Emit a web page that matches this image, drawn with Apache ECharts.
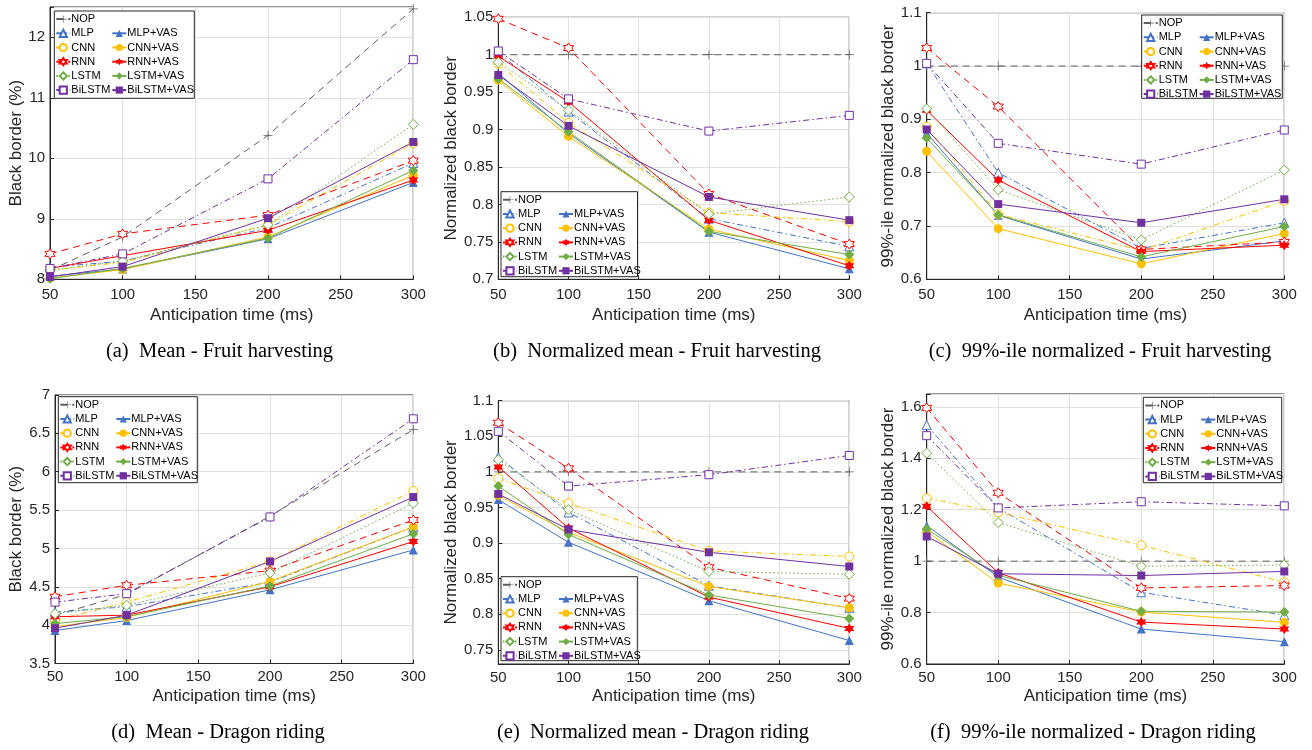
<!DOCTYPE html>
<html><head><meta charset="utf-8">
<script src="https://cdn.jsdelivr.net/npm/echarts@6/dist/echarts.min.js"></script>
<style>html,body{margin:0;padding:0;background:#fff}#c{width:1312px;height:750px}</style>
</head><body><div id="c"></div>
<script>
// ---------------- DATA ----------------
const anticipation = [50, 100, 200, 300];
const methods = ['NOP','MLP','MLP+VAS','CNN','CNN+VAS','RNN','RNN+VAS','LSTM','LSTM+VAS','BiLSTM','BiLSTM+VAS'];

// rows follow the order of `methods`
const meanFruit = [
  [8.15, 8.70, 10.38, 12.47],
  [8.20, 8.30, 8.85, 9.92],
  [8.05, 8.17, 8.67, 9.60],
  [8.15, 8.28, 8.90, 10.25],
  [8.02, 8.16, 8.70, 9.72],
  [8.42, 8.75, 9.06, 9.96],
  [8.18, 8.39, 8.81, 9.64],
  [8.15, 8.30, 8.90, 10.56],
  [8.01, 8.18, 8.68, 9.80],
  [8.18, 8.42, 9.66, 11.63],
  [8.04, 8.21, 9.01, 10.27]
];
const normMeanFruit = [
  [1, 1, 1, 1],
  [1.003, 0.924, 0.781, 0.744],
  [0.975, 0.895, 0.763, 0.714],
  [0.988, 0.909, 0.789, 0.777],
  [0.966, 0.891, 0.767, 0.725],
  [1.048, 1.009, 0.814, 0.747],
  [0.998, 0.937, 0.779, 0.718],
  [0.990, 0.926, 0.787, 0.810],
  [0.968, 0.897, 0.764, 0.733],
  [1.005, 0.941, 0.898, 0.919],
  [0.973, 0.905, 0.810, 0.779]
];
const p99Fruit = [
  [1, 1, 1, 1],
  [1.005, 0.800, 0.658, 0.706],
  [0.874, 0.720, 0.638, 0.672],
  [0.886, 0.722, 0.654, 0.747],
  [0.840, 0.695, 0.629, 0.686],
  [1.034, 0.924, 0.656, 0.670],
  [0.917, 0.786, 0.652, 0.664],
  [0.920, 0.768, 0.674, 0.805],
  [0.865, 0.721, 0.642, 0.699],
  [1.005, 0.855, 0.816, 0.880],
  [0.881, 0.741, 0.706, 0.750]
];
const meanDragon = [
  [4.13, 4.40, 5.42, 6.55],
  [4.17, 4.24, 4.56, 5.28],
  [3.93, 4.06, 4.46, 4.98],
  [4.06, 4.30, 4.83, 5.75],
  [3.98, 4.10, 4.57, 5.28],
  [4.37, 4.52, 4.71, 5.37],
  [4.11, 4.13, 4.50, 5.09],
  [4.15, 4.26, 4.68, 5.59],
  [4.02, 4.11, 4.51, 5.19],
  [4.30, 4.41, 5.41, 6.69],
  [3.96, 4.13, 4.83, 5.67]
];
const normMeanDragon = [
  [1, 1, 1, 1],
  [1.021, 0.943, 0.840, 0.809],
  [0.961, 0.901, 0.819, 0.763],
  [0.991, 0.956, 0.889, 0.881],
  [0.967, 0.915, 0.839, 0.809],
  [1.069, 1.005, 0.866, 0.822],
  [1.007, 0.921, 0.824, 0.780],
  [1.017, 0.947, 0.860, 0.856],
  [0.980, 0.912, 0.827, 0.794],
  [1.057, 0.980, 0.996, 1.023],
  [0.969, 0.919, 0.887, 0.867]
];
const p99Dragon = [
  [1, 1, 1, 1],
  [1.530, 1.207, 0.879, 0.790],
  [1.138, 0.938, 0.736, 0.687],
  [1.245, 1.190, 1.062, 0.918],
  [1.115, 0.915, 0.802, 0.762],
  [1.596, 1.266, 0.896, 0.905],
  [1.213, 0.955, 0.763, 0.736],
  [1.420, 1.150, 0.980, 0.985],
  [1.125, 0.945, 0.805, 0.802],
  [1.488, 1.207, 1.231, 1.215],
  [1.096, 0.951, 0.944, 0.960]
];
const panelData = [meanFruit, normMeanFruit, p99Fruit, meanDragon, normMeanDragon, p99Dragon];

const captions = [
  '(a)  Mean - Fruit harvesting',
  '(b)  Normalized mean - Fruit harvesting',
  '(c)  99%-ile normalized - Fruit harvesting',
  '(d)  Mean - Dragon riding',
  '(e)  Normalized mean - Dragon riding',
  '(f)  99%-ile normalized - Dragon riding'
];
const yNames = ['Black border (%)', 'Normalized black border', '99%-ile normalized black border',
                'Black border (%)', 'Normalized black border', '99%-ile normalized black border'];
const xName = 'Anticipation time (ms)';
const yMin = [8, 0.7, 0.6, 3.5, 0.73, 0.6];
const yMax = [12.5, 1.05, 1.1, 7, 1.1, 1.65];
const yStep = [1, 0.05, 0.1, 0.5, 0.05, 0.2];

// ---------------- LAYOUT / STYLE ----------------
const grids = [
  {left: 50,    top: 7,     width: 363.3, height: 272.3},
  {left: 498.3, top: 17.3,  width: 351,   height: 262},
  {left: 926.7, top: 12.7,  width: 357.6, height: 266.6},
  {left: 55,    top: 395,   width: 358.3, height: 268.5},
  {left: 498.3, top: 400.7, width: 351,   height: 263.3},
  {left: 926.7, top: 394,   width: 357.6, height: 270}
];
const yNameGap = [18, 32, 25, 23, 32, 25];
const xNameGap = [28, 28, 28, 24, 24, 24];
const xLabelMargin = [8, 8, 8, 6, 6, 6];
const legendBox = [
  [54.3, 11, 140, 87.3],
  [501, 191.7, 136.5, 85],
  [1141.7, 15, 140.6, 83.3],
  [58.3, 396.7, 139, 86],
  [501, 576.7, 136.3, 84],
  [1143.3, 397.3, 138.4, 85.4]
];
const captionPos = [[219.5, 352], [657, 352], [1100, 352], [218, 733], [653, 733], [1093, 733]];

const BLUE = '#4472C4', YEL = '#FFC000', RED = '#FF0000', GRN = '#70AD47', PUR = '#7030A0', GRY = '#5f5f5f';
const PLUS = 'path://M4.6,0H5.4V4.6H10V5.4H5.4V10H4.6V5.4H0V4.6H4.6Z';
const HEX = 'path://M10,0L12.89,5L18.66,5L15.77,10L18.66,15L12.89,15L10,20L7.11,15L1.34,15L4.23,10L1.34,5L7.11,5Z';
const DASHDOT = [6, 3, 1.5, 3], DASH = [7, 5], DOT = [1.5, 2.5];
const style = {
  'NOP':        {c: GRY,  sym: PLUS,      open: false, dash: DASH,    size: 9},
  'MLP':        {c: BLUE, sym: 'triangle',open: true,  dash: DASHDOT, size: 9},
  'MLP+VAS':    {c: BLUE, sym: 'triangle',open: false, dash: 'solid', size: 9},
  'CNN':        {c: YEL,  sym: 'circle',  open: true,  dash: DASHDOT, size: 9},
  'CNN+VAS':    {c: YEL,  sym: 'circle',  open: false, dash: 'solid', size: 9},
  'RNN':        {c: RED,  sym: HEX,       open: true,  dash: DASH,    size: 10},
  'RNN+VAS':    {c: RED,  sym: HEX,       open: false, dash: 'solid', size: 10},
  'LSTM':       {c: GRN,  sym: 'diamond', open: true,  dash: DOT,     size: 10},
  'LSTM+VAS':   {c: GRN,  sym: 'diamond', open: false, dash: 'solid', size: 10},
  'BiLSTM':     {c: PUR,  sym: 'rect',    open: true,  dash: DASHDOT, size: 8},
  'BiLSTM+VAS': {c: PUR,  sym: 'rect',    open: false, dash: 'solid', size: 8}
};
const FONT = 'Liberation Sans, Arial, sans-serif';
const AX = '#262626';

function fmt(v) { return String(parseFloat(v.toFixed(3))); }

const option = {
  backgroundColor: '#fff',
  animation: false,
  grid: [], xAxis: [], yAxis: [], series: [], legend: [], graphic: []
};

panelData.forEach((rows, p) => {
  option.grid.push(Object.assign({show: true, borderColor: AX, borderWidth: 1, backgroundColor: '#fff', containLabel: false}, grids[p]));
  option.xAxis.push({
    type: 'value', gridIndex: p, min: 50, max: 300, interval: 50,
    name: xName, nameLocation: 'middle', nameGap: xNameGap[p],
    nameTextStyle: {fontFamily: FONT, fontSize: 17, color: AX},
    axisLine: {show: true, onZero: false, lineStyle: {color: AX}},
    axisTick: {show: true, inside: true, length: 4, lineStyle: {color: AX}},
    axisLabel: {fontFamily: FONT, fontSize: 15, color: AX, margin: xLabelMargin[p]},
    splitLine: {show: true, lineStyle: {color: '#e0e0e0', width: 1}}
  });
  const step = yStep[p];
  const yAx = {
    type: 'value', gridIndex: p, min: yMin[p], max: yMax[p],
    name: yNames[p], nameLocation: 'middle', nameGap: yNameGap[p],
    nameTextStyle: {fontFamily: FONT, fontSize: 17, color: AX},
    axisLine: {show: true, onZero: false, lineStyle: {color: AX}},
    axisTick: {show: true, inside: true, length: 4, lineStyle: {color: AX}},
    axisLabel: {fontFamily: FONT, fontSize: 15, color: AX, margin: 5,
      formatter: v => (Math.abs(v / step - Math.round(v / step)) < 1e-6) ? fmt(v) : ''},
    splitLine: {show: true, lineStyle: {color: '#e0e0e0', width: 1}}
  };
  if (Math.abs(yMin[p] / step - Math.round(yMin[p] / step)) < 1e-6) yAx.interval = step;
  else yAx.splitNumber = Math.round((yMax[p] - yMin[p]) / step);
  option.yAxis.push(yAx);

  methods.forEach((m, i) => {
    const s = style[m];
    option.series.push({
      name: m, type: 'line', xAxisIndex: p, yAxisIndex: p,
      data: anticipation.map((x, k) => [x, rows[i][k]]),
      symbol: s.sym, symbolSize: s.size, showSymbol: true, clip: false,
      lineStyle: {color: s.c, width: 1, type: s.dash},
      itemStyle: s.open ? {color: '#fff', borderColor: s.c, borderWidth: 1}
                        : {color: s.c, borderColor: s.c, borderWidth: 0},
      emphasis: {disabled: true},
      z: 3
    });
  });

  const [bx, by, bw, bh] = legendBox[p];
  option.graphic.push({type: 'rect', z: 50, shape: {x: bx, y: by, width: bw, height: bh},
    style: {fill: '#fff', stroke: AX, lineWidth: 1}});
  const common = {orient: 'vertical', padding: 0, itemGap: 0, itemWidth: 14, itemHeight: 9,
    selectedMode: false, z: 60, textStyle: {fontFamily: FONT, fontSize: 11, color: '#000', lineHeight: 14.2, padding: [0, 0, 0, -4]}};
  option.legend.push(Object.assign({}, common, {left: bx + 1, top: by + 1,
    data: ['NOP', 'MLP', 'CNN', 'RNN', 'LSTM', 'BiLSTM']}));
  option.legend.push(Object.assign({}, common, {left: bx + 57, top: by + 1 + 14.2,
    data: ['MLP+VAS', 'CNN+VAS', 'RNN+VAS', 'LSTM+VAS', 'BiLSTM+VAS']}));

  option.graphic.push({type: 'text', x: captionPos[p][0], y: captionPos[p][1],
    style: {text: captions[p], fontFamily: 'Liberation Serif, Times New Roman, serif', fontSize: 20.5,
      fill: '#000', textAlign: 'center', textVerticalAlign: 'middle'}});
});

const chart = echarts.init(document.getElementById('c'), null, {renderer: 'canvas'});
chart.setOption(option);
</script>
</body></html>
